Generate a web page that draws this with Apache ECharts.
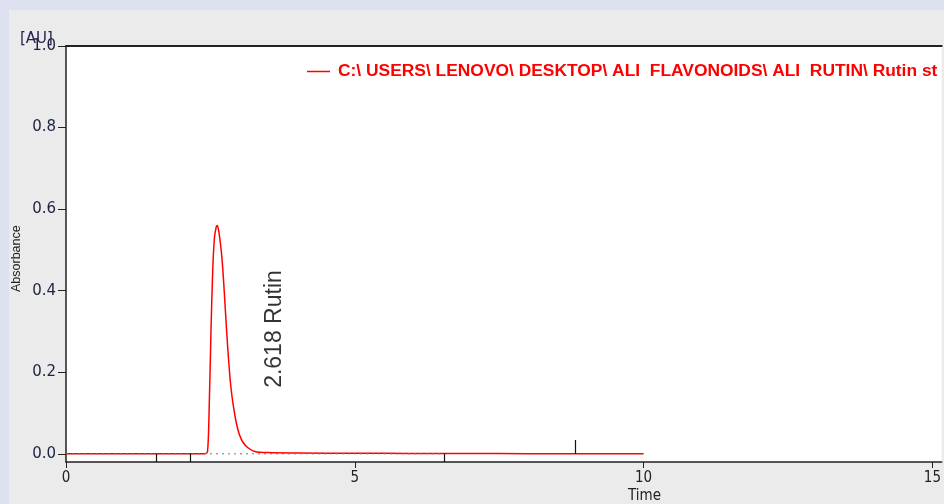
<!DOCTYPE html>
<html><head><meta charset="utf-8">
<script src="https://cdn.jsdelivr.net/npm/echarts@6/dist/echarts.min.js"></script>
<style>html,body{margin:0;padding:0;background:#dde1ef;}#c{width:944px;height:504px;}</style>
</head><body><div id="c"></div>
<script>
// --- data ---
var seriesName = 'C:\\ USERS\\ LENOVO\\ DESKTOP\\ ALI  FLAVONOIDS\\ ALI  RUTIN\\ Rutin st';
var timeValues = [0, 1.0, 2.0, 2.40, 2.45, 2.48, 2.51, 2.54, 2.57, 2.60, 2.618, 2.64, 2.67, 2.70, 2.73, 2.76, 2.80, 2.85, 2.90, 2.95, 3.00, 3.06, 3.15, 3.27, 3.50, 4.0, 5.0, 6.0, 7.0, 8.0, 9.0, 10.0];
var absValues  = [0, 0, 0, 0, 0.005, 0.12, 0.30, 0.45, 0.53, 0.556, 0.56, 0.55, 0.52, 0.48, 0.42, 0.35, 0.26, 0.17, 0.115, 0.075, 0.048, 0.029, 0.015, 0.006, 0.003, 0.002, 0.0015, 0.001, 0.001, 0.0005, 0.0003, 0];
var yTickValues = [0, 0.2, 0.4, 0.6, 0.8, 1.0];
var xTickValues = [0, 5, 10, 15];
var eventTimes = [1.557, 2.145, 6.54];
var markerTime = 8.82, markerHeight = 0.034;
var baselineStart = 0, baselineEnd = 6.54;
var peakLabel = '2.618 Rutin';
var peakLabelAt = [3.61, 0.306];

var lineData = timeValues.map(function (t, i) { return [t, absValues[i]]; });
var eventSegs = eventTimes.map(function (t) {
  return [{ coord: [t, -0.02] }, { coord: [t, 0] }];
});
eventSegs.push([{ coord: [markerTime, 0] }, { coord: [markerTime, markerHeight] }]);

var chart = echarts.init(document.getElementById('c'), null, { renderer: 'canvas' });
chart.setOption({
  backgroundColor: '#dde1ef',
  animation: false,
  grid: { left: 66, top: 46, right: 2, bottom: 42, show: true, backgroundColor: '#ffffff', borderWidth: 0 },
  legend: {
    data: [seriesName], left: 302, top: 58, icon: 'rect', itemWidth: 23, itemHeight: 1.5, itemGap: 0,
    textStyle: { color: '#ff0000', fontWeight: 'bold', fontSize: 17.4, fontFamily: 'Liberation Sans', padding: [0, 0, 0, 3] }
  },
  graphic: [
    { type: 'rect', left: 9, top: 10, shape: { width: 935, height: 494 }, style: { fill: '#ebebeb' }, z: -10, silent: true },
    { type: 'text', left: 20, top: 32, style: { text: '[AU]', fontSize: 15, fontFamily: 'DejaVu Sans', fill: '#2a2450' }, z: 10 },
    { type: 'text', left: 628, top: 489, style: { text: 'Time', fontSize: 15, fontFamily: 'DejaVu Sans Condensed, DejaVu Sans', fill: '#222' } },
    { type: 'text', x: 10, y: 292, rotation: Math.PI / 2, style: { text: 'Absorbance', fontSize: 12.5, fontFamily: 'Liberation Sans', fill: '#222', align: 'left', verticalAlign: 'top' } }
  ],
  xAxis: [{
    type: 'value', min: 0, max: 15.16, interval: 5,
    axisLine: { onZero: false, lineStyle: { color: '#222', width: 1.5 } },
    axisTick: { customValues: xTickValues, length: 6, lineStyle: { color: '#222' } },
    axisLabel: { customValues: xTickValues, margin: 9, color: '#222', fontSize: 15, fontFamily: 'DejaVu Sans Condensed, DejaVu Sans' },
    splitLine: { show: false }
  }, {
    type: 'value', position: 'top', min: 0, max: 15.16,
    axisLine: { show: true, onZero: false, lineStyle: { color: '#222', width: 2 } },
    axisTick: { show: false }, axisLabel: { show: false }, splitLine: { show: false }
  }],
  yAxis: {
    type: 'value', min: -0.02, max: 1.0,
    axisLine: { show: true, onZero: false, lineStyle: { color: '#222', width: 1.5 } },
    axisTick: { show: true, customValues: yTickValues, length: 8, lineStyle: { color: '#222' } },
    axisLabel: { customValues: yTickValues, margin: 10, color: '#1c2340', fontSize: 15, fontFamily: 'DejaVu Sans',
      formatter: function (v) { return v.toFixed(1); } },
    splitLine: { show: false }
  },
  series: [{
    name: seriesName, type: 'line', data: lineData, showSymbol: false, smooth: 0.3,
    lineStyle: { color: '#ff0000', width: 1.5 }, itemStyle: { color: '#ff0000' },
    markLine: { silent: true, symbol: 'none', label: { show: false },
      lineStyle: { color: '#111', width: 1.2, type: 'solid' }, data: eventSegs }
  }, {
    name: 'baseline', type: 'line', data: [[baselineStart, 0], [baselineEnd, 0]], showSymbol: false, z: 3,
    lineStyle: { color: '#777', width: 1, type: [2, 4] }
  }, {
    name: 'label', type: 'scatter', data: [peakLabelAt], symbolSize: 0,
    label: { show: true, position: 'inside', rotate: 90, formatter: peakLabel, fontSize: 23,
      fontFamily: 'Liberation Sans', color: '#000', textBorderWidth: 0 }
  }]
});
</script></body></html>
